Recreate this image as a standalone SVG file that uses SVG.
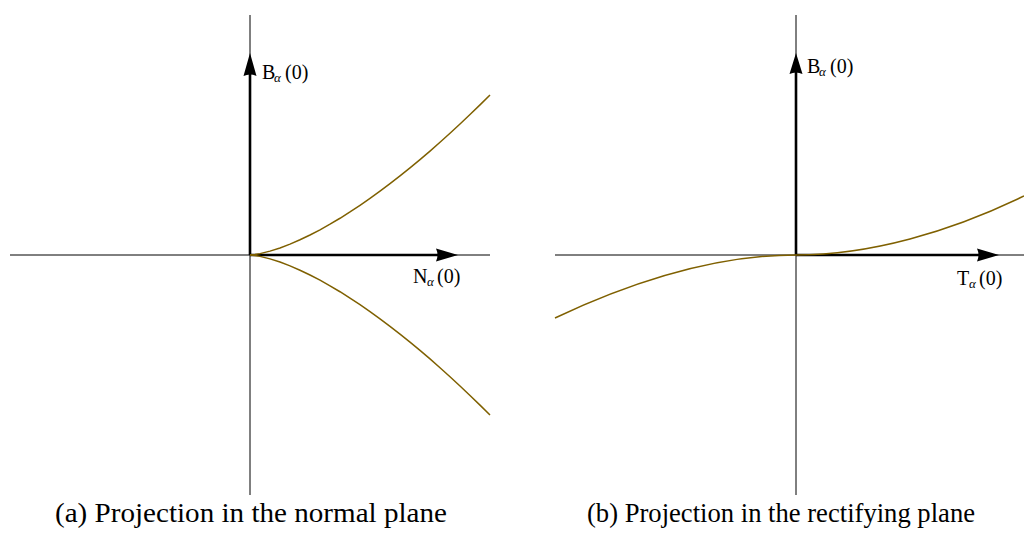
<svg xmlns="http://www.w3.org/2000/svg" xmlns:xlink="http://www.w3.org/1999/xlink" width="1024" height="536" viewBox="0 0 1024 536">
<style>
.axis{stroke:#000;stroke-width:1;fill:none}
.vec{stroke:#000;stroke-width:2.6;fill:none}
.head{fill:#000;stroke:none}
.curve{stroke:#7f6000;stroke-width:1.5;fill:none}
.lbl{font-family:"Liberation Serif","DejaVu Serif",serif;font-size:20px;fill:#000}
.sub{font-family:"Liberation Serif","DejaVu Serif",serif;font-size:13px;font-style:italic;fill:#000}
.cap{font-family:"Liberation Serif","DejaVu Serif",serif;font-size:28px;fill:#000}
</style>
<defs>
<path id="semi" d="M0,0 L5,-0.48 L10,-1.36 L20,-3.85 L30,-7.07 L40,-10.89 L50,-15.21 L60,-20 L70,-25.2 L80,-30.79 L90,-36.74 L100,-43.03 L110,-49.65 L120,-56.57 L130,-63.79 L140,-71.29 L150,-79.06 L160,-87.1 L170,-95.39 L180,-103.92 L190,-112.71 L200,-121.72 L210,-130.96 L220,-140.42 L230,-150.11 L240,-160"/>
</defs>
<g id="panel-a">
<g id="axes-a">
<line class="axis" x1="10" y1="255" x2="490" y2="255"/>
<line class="axis" x1="250" y1="15" x2="250" y2="495"/>
</g>
<g id="vector-B-a">
<line class="vec" x1="250" y1="255" x2="250" y2="72"/>
<path class="head" d="M250,53 L256.5,76 Q250,73 243.5,76 Z"/>
<text class="lbl" x="262" y="79">B</text><text class="sub" x="274" y="82">α</text><text class="lbl" x="285" y="79">(0)</text>
</g>
<g id="vector-N-a">
<line class="vec" x1="250" y1="255" x2="440" y2="255"/>
<path class="head" d="M458,255 L436,261.5 Q439,255 436,248.5 Z"/>
<text class="lbl" x="413" y="283">N</text><text class="sub" x="427" y="286">α</text><text class="lbl" x="437" y="283">(0)</text>
</g>
<g id="curve-a" transform="translate(250,255)">
<use xlink:href="#semi" class="curve"/>
<use xlink:href="#semi" class="curve" transform="scale(1,-1)"/>
</g>
<text class="cap" x="55" y="522" textLength="392" lengthAdjust="spacingAndGlyphs">(a) Projection in the normal plane</text>
</g>
<g id="panel-b">
<g id="axes-b">
<line class="axis" x1="555" y1="255" x2="1024" y2="255"/>
<line class="axis" x1="796" y1="15" x2="796" y2="495"/>
</g>
<g id="vector-B-b">
<line class="vec" x1="796" y1="255" x2="796" y2="70"/>
<path class="head" d="M796,53 L802.5,74 Q796,71 789.5,74 Z"/>
<text class="lbl" x="807" y="73">B</text><text class="sub" x="819" y="76">α</text><text class="lbl" x="830" y="73">(0)</text>
</g>
<g id="vector-T-b">
<line class="vec" x1="796" y1="255" x2="981" y2="255"/>
<path class="head" d="M999,255 L977,261.5 Q980,255 977,248.5 Z"/>
<text class="lbl" x="957" y="285">T</text><text class="sub" x="969" y="288">α</text><text class="lbl" x="979" y="285">(0)</text>
</g>
<g id="curve-b">
<path class="curve" d="M796,255 C870,255 950,232 1024,196"/>
<path class="curve" d="M796,255 C720,255 640,278 555,318"/>
</g>
<text class="cap" x="587" y="522" textLength="388" lengthAdjust="spacingAndGlyphs">(b) Projection in the rectifying plane</text>
</g>
</svg>
